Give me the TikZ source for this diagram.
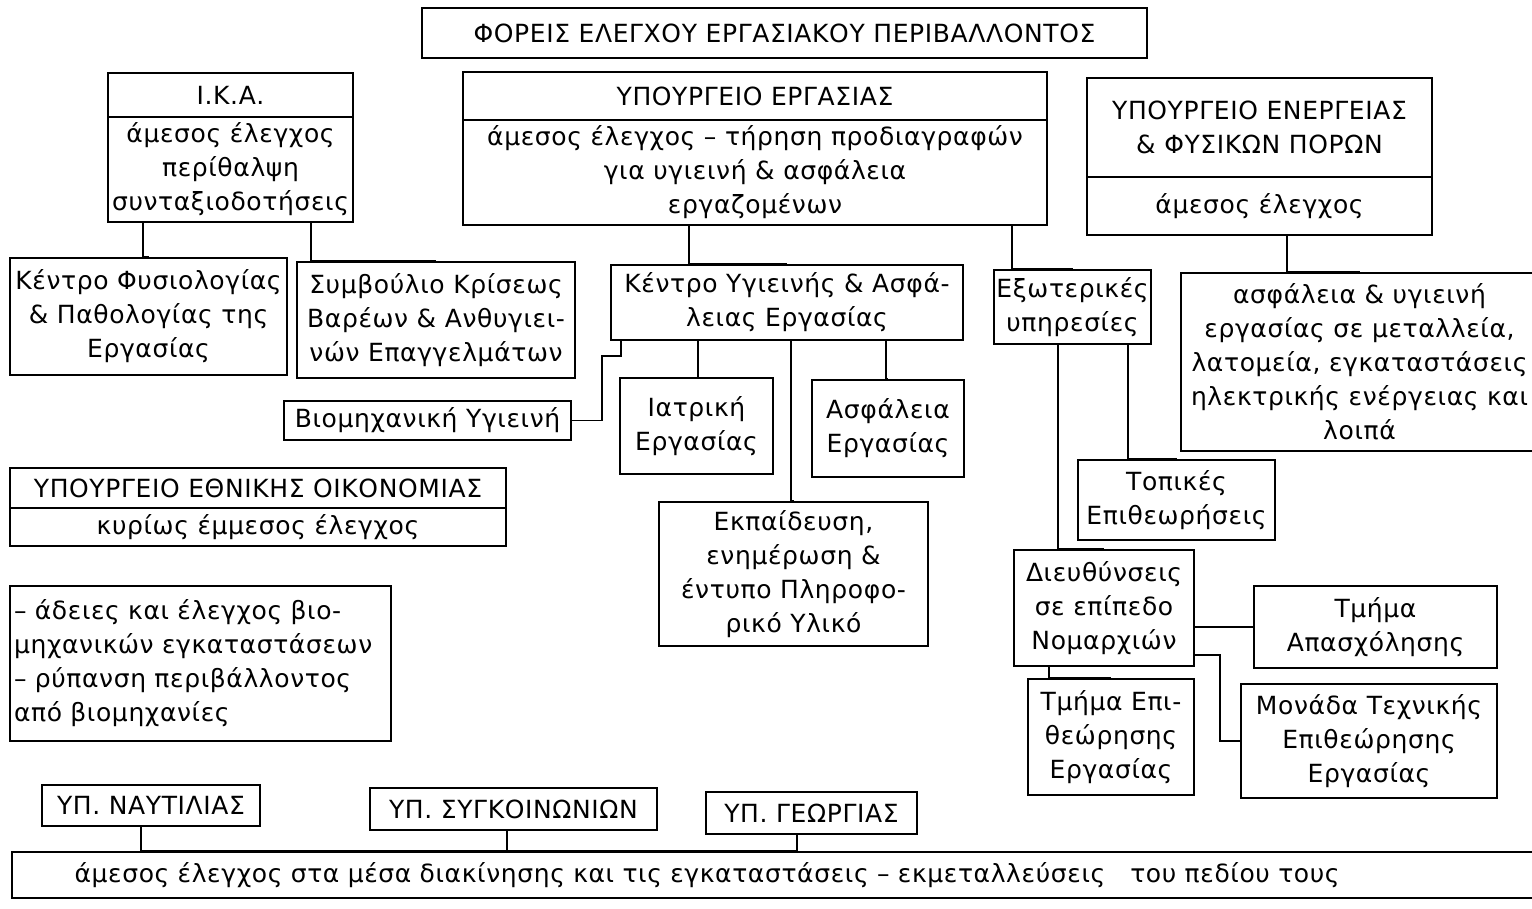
\documentclass[tikz,border=0pt]{standalone}
\usepackage{fontspec}
\setmainfont[LetterSpace=2.5]{DejaVu Sans}

\begin{document}
\begin{tikzpicture}[x=1pt,y=-1pt,line width=1.6pt,
    box/.style={draw,align=center,inner sep=0pt,font=\fontsize{25}{34}\selectfont}]
    \useasboundingbox (0,0) rectangle (1532,908);
    % top row
    \node[box,minimum width=725,minimum height=50] (title) at (784.5,33) {ΦΟΡΕΙΣ ΕΛΕΓΧΟΥ ΕΡΓΑΣΙΑΚΟΥ ΠΕΡΙΒΑΛΛΟΝΤΟΣ};
    \node[box,minimum width=245,minimum height=44] (ikaH) at (230.5,95) {Ι.Κ.Α.};
    \node[box,minimum width=245,minimum height=105] (ikaB) at (230.5,169.5) {άμεσος έλεγχος\\περίθαλψη\\συνταξιοδοτήσεις};
    \node[box,minimum width=584,minimum height=48] (ergH) at (755,96) {ΥΠΟΥΡΓΕΙΟ ΕΡΓΑΣΙΑΣ};
    \node[box,minimum width=584,minimum height=105] (ergB) at (755,172.5) {άμεσος έλεγχος – τήρηση προδιαγραφών\\για υγιεινή \& ασφάλεια\\εργαζομένων};
    \node[box,minimum width=345,minimum height=99] (enH) at (1259.5,127.5) {ΥΠΟΥΡΓΕΙΟ ΕΝΕΡΓΕΙΑΣ\\\& ΦΥΣΙΚΩΝ ΠΟΡΩΝ};
    \node[box,minimum width=345,minimum height=58] (enB) at (1259.5,206) {άμεσος έλεγχος};
    % second row
    \node[box,minimum width=277,minimum height=117] (fys) at (148.5,316.5) {Κέντρο Φυσιολογίας\\\& Παθολογίας της\\Εργασίας};
    \node[box,minimum width=278,minimum height=116] (symv) at (436,320) {Συμβούλιο Κρίσεως\\Βαρέων \& Ανθυγιει-\\νών Επαγγελμάτων};
    \node[box,minimum width=352,minimum height=75] (kyg) at (787,302.5) {Κέντρο Υγιεινής \& Ασφά-\\λειας Εργασίας};
    \node[box,minimum width=157,minimum height=74] (exo) at (1072.5,307) {Εξωτερικές\\υπηρεσίες};
    \node[box,minimum width=357,minimum height=178] (asf) at (1359.5,362) {ασφάλεια \& υγιεινή\\εργασίας σε μεταλλεία,\\λατομεία, εγκαταστάσεις\\ηλεκτρικής ενέργειας και\\λοιπά};
    % under the centre
    \node[box,minimum width=287,minimum height=39] (viom) at (427.5,420.5) {Βιομηχανική Υγιεινή};
    \node[box,minimum width=153,minimum height=96] (iatr) at (696.5,426) {Ιατρική\\Εργασίας};
    \node[box,minimum width=152,minimum height=97] (asfE) at (888,428.5) {Ασφάλεια\\Εργασίας};
    \node[box,minimum width=269,minimum height=144] (ekp) at (793.5,574) {Εκπαίδευση,\\ενημέρωση \&\\έντυπο Πληροφο-\\ρικό Υλικό};
    % outside services
    \node[box,minimum width=197,minimum height=80] (top) at (1176.5,500) {Τοπικές\\Επιθεωρήσεις};
    \node[box,minimum width=180,minimum height=116] (dieu) at (1104,608) {Διευθύνσεις\\σε επίπεδο\\Νομαρχιών};
    \node[box,minimum width=243,minimum height=82] (apas) at (1375.5,627) {Τμήμα\\Απασχόλησης};
    \node[box,minimum width=256,minimum height=114] (mon) at (1369,741) {Μονάδα Τεχνικής\\Επιθεώρησης\\Εργασίας};
    \node[box,minimum width=166,minimum height=116] (tmep) at (1111,737) {Τμήμα Επι-\\θεώρησης\\Εργασίας};
    % left column
    \node[box,minimum width=496,minimum height=40] (oikH) at (258,488) {ΥΠΟΥΡΓΕΙΟ ΕΘΝΙΚΗΣ ΟΙΚΟΝΟΜΙΑΣ};
    \node[box,minimum width=496,minimum height=38] (oikB) at (258,527) {κυρίως έμμεσος έλεγχος};
    \node[box,minimum width=381,minimum height=155,text width=373,align=left] (adeies) at (200.5,663.5) {– άδειες και έλεγχος βιο-\\μηχανικών~εγκαταστάσεων\\– ρύπανση περιβάλλοντος\\από βιομηχανίες};
    % bottom row
    \node[box,minimum width=218,minimum height=41] (nav) at (151,805.5) {ΥΠ. ΝΑΥΤΙΛΙΑΣ};
    \node[box,minimum width=287,minimum height=42] (syg) at (513.5,809) {ΥΠ. ΣΥΓΚΟΙΝΩΝΙΩΝ};
    \node[box,minimum width=211,minimum height=42] (geo) at (811.5,813) {ΥΠ. ΓΕΩΡΓΙΑΣ};
    \node[box,minimum width=1533,minimum height=46,text width=1500,align=left] (bot) at (778.5,875) {\hspace*{46pt}άμεσος έλεγχος στα μέσα διακίνησης και τις εγκαταστάσεις – εκμεταλλεύσεις\quad του πεδίου τους};

    \draw ([xshift=-87.5pt]ikaB.south) |- (fys.north);
    \draw ([xshift=80.5pt]ikaB.south) |- (symv.north);
    \draw ([xshift=-66pt]ergB.south) |- (kyg.north);
    \draw ([xshift=257pt]ergB.south) |- (exo.north);
    \draw ([xshift=27.5pt]enB.south) |- (asf.north);
    \draw ([xshift=-89pt]kyg.south) |- (iatr.north);
    \draw ([xshift=99pt]kyg.south) |- (asfE.north);
    \draw ([xshift=4pt]kyg.south) |- (ekp.north);
    \draw ([xshift=-166pt]kyg.south) -- ++(0,15) -| ([xshift=30pt]viom.east) -- (viom.east);
    \draw ([xshift=55.5pt]exo.south) |- (top.north);
    \draw ([xshift=-14.5pt]exo.south) |- (dieu.north);
    \draw (dieu.east |- apas.west) -- (apas.west);
    \draw ([yshift=-47pt]dieu.east) -| ([xshift=-20pt]mon.west) -- (mon.west);
    \draw ([xshift=-55pt]dieu.south) |- (tmep.north);
    \draw ([xshift=-10pt]nav.south) |- (bot.north);
    \draw ([xshift=-6.5pt]syg.south) |- (bot.north);
    \draw ([xshift=-14.5pt]geo.south) |- (bot.north);
\end{tikzpicture}
\end{document}
